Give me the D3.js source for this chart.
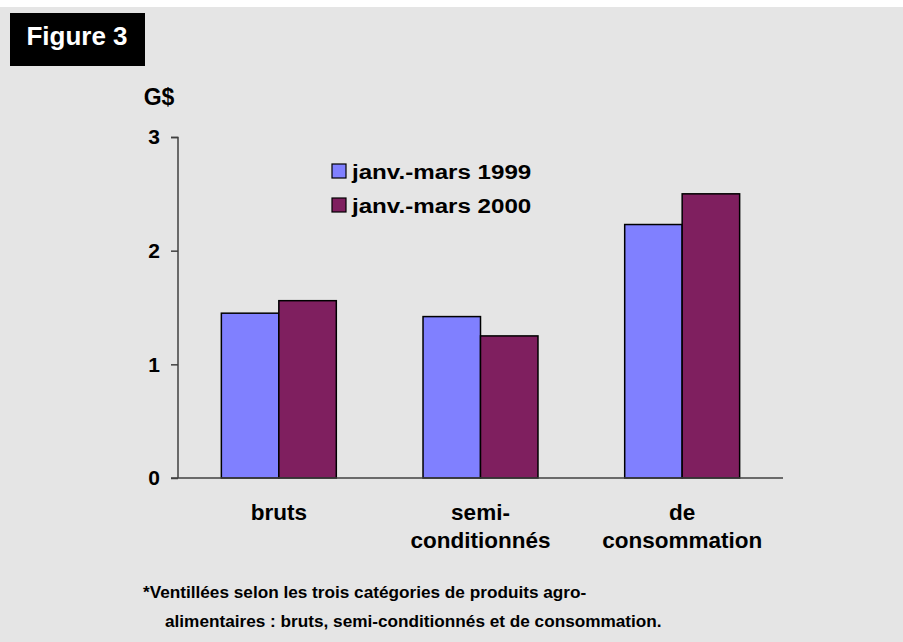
<!DOCTYPE html>
<html>
<head>
<meta charset="utf-8">
<script src="https://cdn.jsdelivr.net/npm/d3@7"></script>
<style>
  body { margin: 0; background: #fff; }
  text { font-family: "Liberation Sans", Arial, sans-serif; font-weight: bold; fill: #000; }
</style>
</head>
<body>
<svg id="chart"></svg>
<script>
// categories (two-line labels) and series
const categories = ["bruts", "semi-conditionnés", "de consommation"];
const categoryLines = [["bruts"], ["semi-", "conditionnés"], ["de", "consommation"]];
const seriesNames = ["janv.-mars 1999", "janv.-mars 2000"];
const values1999 = [1.45, 1.42, 2.23];
const values2000 = [1.56, 1.25, 2.50];
const yTicks = [0, 1, 2, 3];
const footnoteLines = [
  "*Ventillées selon les trois catégories de produits agro-",
  "alimentaires : bruts, semi-conditionnés et de consommation."
];

const W = 903, H = 642;
const colors = ["#8080ff", "#7f1f5f"];
const margin = { top: 137, left: 178, right: 120, bottom: 164 };
const innerW = W - margin.left - margin.right;
const innerH = H - margin.top - margin.bottom;

const svg = d3.select("#chart").attr("width", W).attr("height", H);

// grey panel
svg.append("rect").attr("x", 0).attr("y", 7).attr("width", W).attr("height", H - 7).attr("fill", "#e5e5e5");

// figure tag
svg.append("rect").attr("x", 10).attr("y", 13).attr("width", 135).attr("height", 53).attr("fill", "#000");
svg.append("text").attr("x", 77).attr("y", 45).attr("text-anchor", "middle")
  .style("font-size", "26px").style("fill", "#fff").text("Figure 3");

const chart = svg.append("g").attr("transform", `translate(${margin.left},${margin.top})`);

const data = categories.map((c, i) => ({ cat: c, vals: [values1999[i], values2000[i]] }));

const x0 = d3.scaleBand().domain(categories).range([0, innerW]).paddingInner(0.43).paddingOuter(0.215);
const x1 = d3.scaleBand().domain(seriesNames).range([0, x0.bandwidth()]);
const y = d3.scaleLinear().domain([0, 3]).range([innerH, 0]);

// y axis
const yAxis = d3.axisLeft(y).tickValues(yTicks).tickSize(7).tickPadding(11).tickFormat(d3.format("d"));
const yG = chart.append("g").call(yAxis);
yG.select(".domain").attr("stroke", "#404040").attr("stroke-width", 1.5).attr("d", `M-7,0.5H0V${innerH}`);
yG.selectAll(".tick line").attr("stroke", "#404040").attr("stroke-width", 1.5);
yG.selectAll(".tick text").style("font-size", "21px").style("font-family", "Liberation Sans, Arial, sans-serif")
  .style("font-weight", "bold").attr("fill", "#000");

// bars
const groups = chart.selectAll("g.cat").data(data).join("g").attr("class", "cat")
  .attr("transform", d => `translate(${x0(d.cat)},0)`);
groups.selectAll("rect").data(d => d.vals.map((v, i) => ({ name: seriesNames[i], v, i })))
  .join("rect")
  .attr("x", d => x1(d.name))
  .attr("y", d => y(d.v))
  .attr("width", x1.bandwidth())
  .attr("height", d => innerH - y(d.v))
  .attr("fill", d => colors[d.i])
  .attr("stroke", "#000")
  .attr("stroke-width", 1.5);

// x axis baseline
const xAxis = d3.axisBottom(x0).tickSize(0).tickFormat("");
const xG = chart.append("g").attr("transform", `translate(0,${innerH})`).call(xAxis);
xG.select(".domain").attr("stroke", "#404040").attr("stroke-width", 1.5).attr("d", `M-7,0H${innerW}`);

// category labels
categoryLines.forEach((lines, i) => {
  const cx = x0(categories[i]) + x0.bandwidth() / 2;
  lines.forEach((ln, j) => {
    chart.append("text").attr("x", cx).attr("y", innerH + 42 + j * 28)
      .attr("text-anchor", "middle").style("font-size", "22.5px").text(ln);
  });
});

// unit label
svg.append("text").attr("x", 159).attr("y", 105).attr("text-anchor", "middle")
  .style("font-size", "23px").text("G$");

// legend
const legend = svg.append("g").attr("transform", "translate(332,164)");
seriesNames.forEach((s, i) => {
  legend.append("rect").attr("x", 0).attr("y", i * 34).attr("width", 14).attr("height", 14)
    .attr("fill", colors[i]).attr("stroke", "#000").attr("stroke-width", 1.2);
  legend.append("text").attr("transform", `translate(20,${i * 34 + 15}) scale(1.15,1)`)
    .style("font-size", "21px").text(s);
});

// footnote
footnoteLines.forEach((t, i) => {
  svg.append("text").attr("x", i === 0 ? 143 : 165).attr("y", 598 + i * 29)
    .style("font-size", "17.2px").text(t);
});
</script>
</body>
</html>
